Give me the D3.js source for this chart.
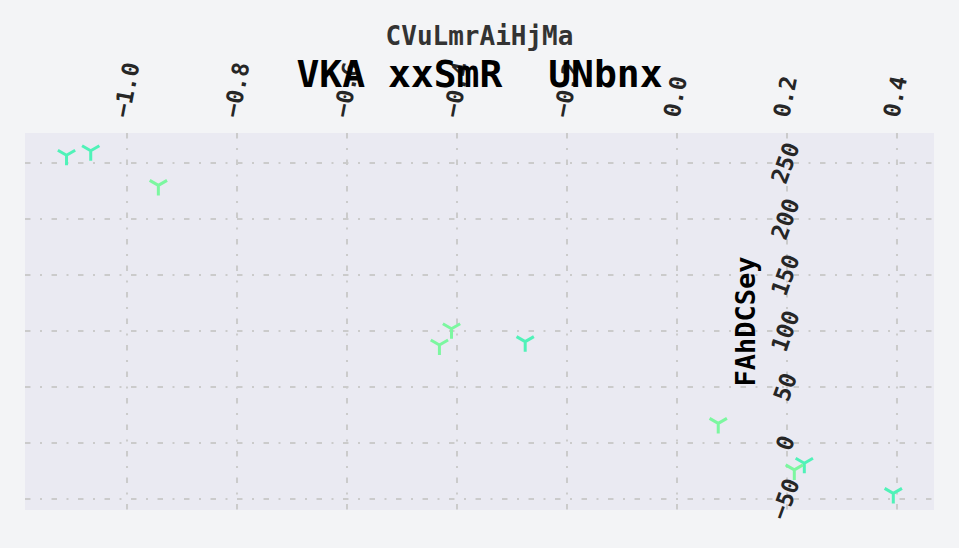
<!DOCTYPE html>
<html>
<head>
<meta charset="utf-8">
<script src="https://cdn.jsdelivr.net/npm/d3@7"></script>
<style>
  html, body { margin: 0; padding: 0; background: #f3f4f6; }
  svg { display: block; }
  text { font-family: "DejaVu Sans Mono", monospace; font-weight: bold; white-space: pre; }
</style>
</head>
<body>
<div id="chart"></div>
<script>
// ---- data ----
const xValues = [-1.11, -1.066, -0.943, -0.41, -0.432, -0.276, 0.075, 0.2315, 0.2133, 0.3933];
const yValues = [257, 261, 230, 102, 87.5, 90.5, 17.5, -18, -24, -45];
const pointColors = ["#50f2b8", "#50f2b8", "#7cf7a0", "#7cf7a0", "#7cf7a0", "#50f2b8", "#7cf7a0", "#50f2b8", "#7cf7a0", "#50f2b8"];
const xTicks = [-1.0, -0.8, -0.6, -0.4, -0.2, 0.0, 0.2, 0.4];
const yTicks = [-50, 0, 50, 100, 150, 200, 250];
const titleText = "VKA xxSmR  UNbnx";
const subtitleText = "CVuLmrAiHjMa";
const yLabelText = "FAhDCSey";

// ---- layout ----
const W = 959, H = 548;
const plot = { left: 25, right: 934, top: 133, bottom: 510 };

const svg = d3.select("#chart").append("svg")
  .attr("width", W).attr("height", H);

svg.append("rect").attr("width", W).attr("height", H).attr("fill", "#f3f4f6");

const x = d3.scaleLinear().domain([-1.1855, 0.4673]).range([plot.left, plot.right]);
const y = d3.scaleLinear().domain([-59.8, 276.8]).range([plot.bottom, plot.top]);

svg.append("rect")
  .attr("x", plot.left).attr("y", plot.top)
  .attr("width", plot.right - plot.left).attr("height", plot.bottom - plot.top)
  .attr("fill", "#eaeaf2");

// grid
const grid = svg.append("g").attr("stroke", "#cbcbcb").attr("stroke-width", 2)
  .attr("stroke-dasharray", "5.5,9.5,2,9.5");
grid.selectAll("line.h").data(yTicks).join("line").attr("class", "h")
  .attr("x1", plot.left).attr("x2", plot.right)
  .attr("y1", d => y(d)).attr("y2", d => y(d));
grid.selectAll("line.v").data(xTicks).join("line").attr("class", "v")
  .attr("y1", plot.top).attr("y2", plot.bottom)
  .attr("x1", d => x(d)).attr("x2", d => x(d));

// x tick labels (top)
const fmtX = d3.format(".1f");
svg.append("g").selectAll("text").data(xTicks).join("text")
  .attr("transform", d => `translate(${x(d) - 6},117) rotate(-79)`)
  .attr("text-anchor", "start")
  .attr("dy", "0.36em")
  .attr("font-size", 23)
  .attr("fill", "#262626")
  .text(d => fmtX(d).replace("-", "\u2212"));

// y tick labels
svg.append("g").selectAll("text").data(yTicks).join("text")
  .attr("transform", d => `translate(${x(0.2) - 2},${y(d)}) rotate(-70)`)
  .attr("text-anchor", "middle")
  .attr("dy", "0.36em")
  .attr("font-size", 23)
  .attr("fill", "#262626")
  .text(d => String(d).replace("-", "\u2212"));

// y label
svg.append("text")
  .attr("transform", `translate(745,${(plot.top + plot.bottom) / 2}) rotate(-90)`)
  .attr("text-anchor", "middle")
  .attr("dy", "0.36em")
  .attr("font-size", 27)
  .attr("fill", "#000")
  .text(yLabelText);

// titles
svg.append("text")
  .attr("x", W / 2).attr("y", 45)
  .attr("text-anchor", "middle")
  .attr("font-size", 26)
  .attr("fill", "#333")
  .text(subtitleText);
svg.append("text")
  .attr("x", W / 2).attr("y", 87)
  .attr("text-anchor", "middle")
  .attr("font-size", 38)
  .attr("fill", "#000")
  .attr("xml:space", "preserve")
  .text(titleText);

// markers (tri_down)
const r = 10;
const triPath = `M0,0L0,${r}M0,0L${-0.866 * r},${-0.5 * r}M0,0L${0.866 * r},${-0.5 * r}`;
const pts = xValues.map((v, i) => ({ x: v, y: yValues[i], c: pointColors[i] }));
svg.append("g").selectAll("path").data(pts).join("path")
  .attr("transform", d => `translate(${x(d.x)},${y(d.y)})`)
  .attr("d", triPath)
  .attr("fill", "none")
  .attr("stroke", d => d.c)
  .attr("stroke-width", 3)
  .attr("stroke-linecap", "butt");
</script>
</body>
</html>
